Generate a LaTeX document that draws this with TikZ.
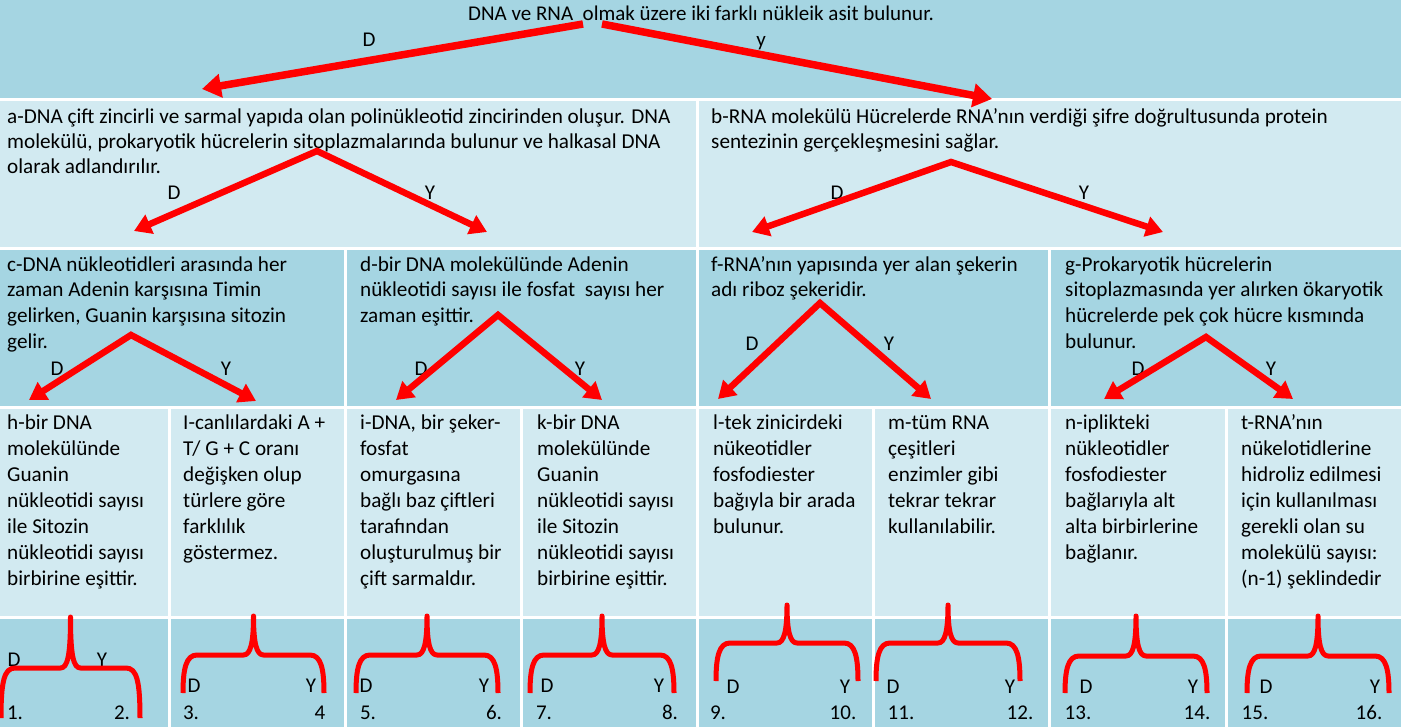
\documentclass[tikz,border=0pt]{standalone}
\usepackage{fontspec}
\setmainfont{Carlito}
\usetikzlibrary{arrows.meta}
\definecolor{dk}{HTML}{A5D5E2}
\definecolor{lt}{HTML}{D2EAF1}
\newcommand\fs{\rule{0pt}{20pt}}
\newcommand\MyBrace[5]{%
  \draw[brace] (#1,#4) .. controls (#1,#3+14) and (#1+3,#3) .. (#1+14,#3)
   -- ({(#1+#2)/2-10},#3) .. controls ({(#1+#2)/2-3},#3) and ({(#1+#2)/2},#3-12) .. ({(#1+#2)/2},#5)
   .. controls ({(#1+#2)/2},#3-12) and ({(#1+#2)/2+3},#3) .. ({(#1+#2)/2+10},#3)
   -- (#2-14,#3) .. controls (#2-3,#3) and (#2,#3+14) .. (#2,#4);}
\tikzset{
  txt2/.style={anchor=north west, inner sep=0pt, align=left, font=\fontsize{21.2}{25}\selectfont},
  txt3/.style={anchor=north west, inner sep=0pt, align=left, font=\fontsize{21.2}{25.7}\selectfont},
  txt4/.style={anchor=north west, inner sep=0pt, align=left, font=\fontsize{21.2}{26.1}\selectfont},
  lbl/.style={inner sep=0pt, anchor=base, font=\fontsize{21}{24}\selectfont},
  toparr/.style={draw=red, line width=7.5pt, >={Triangle[width=23pt,length=19pt]}, ->},
  arrs/.style={draw=red, line width=6.5pt, line join=miter, >={Triangle[width=20pt,length=17pt]}, <->},
  brace/.style={draw=red, line width=5pt, line join=round}
}
\begin{document}
\begin{tikzpicture}[x=1pt,y=-1pt]
\useasboundingbox (0,0) rectangle (1415,727);
\fill[white] (0,0) rectangle (1415,727);
% row 1
\fill[dk] (0,0) rectangle (1401,98.5);
% row 2
\fill[lt] (0,101) rectangle (695.5,247.5);
\fill[lt] (698.5,101) rectangle (1401,247.5);
% row 3
\fill[dk] (0,250.5) rectangle (343.5,406);
\fill[dk] (346.5,250.5) rectangle (695.5,406);
\fill[dk] (698.5,250.5) rectangle (1047.5,406);
\fill[dk] (1050.5,250.5) rectangle (1401,406);
% rows 4 and 5
\foreach \a/\b in {0/167.5,170.5/343.5,346.5/519.5,522.5/695.5,698.5/871.5,874.5/1047.5,1050.5/1224.5,1227.5/1401}{
  \fill[lt] (\a,409) rectangle (\b,615.5);
  \fill[dk] (\a,618.5) rectangle (\b,727);
}

% row 1
\node[lbl] (title) at (701,21) {DNA ve RNA \ olmak üzere iki farklı nükleik asit bulunur.};
\node[lbl] (d0) at (369,47) {D};
\node[lbl] (y0) at (761,47) {y};
\coordinate (s0l) at (583,24);
\coordinate (s0r) at (602,24);
\coordinate (t0l) at (202,89);
\coordinate (t0r) at (992,99);

% row 2
\node[txt2] (a) at (7,103) {\fs a-DNA çift zincirli ve sarmal yapıda olan polinükleotid zincirinden oluşur. DNA\\molekülü, prokaryotik hücrelerin sitoplazmalarında bulunur ve halkasal DNA\\olarak adlandırılır.};
\node[txt2] (b) at (711,103) {\fs b-RNA molekülü Hücrelerde RNA’nın verdiği şifre doğrultusunda protein\\sentezinin gerçekleşmesini sağlar.};
\node[lbl] (da) at (174,200) {D};
\node[lbl] (ya) at (430,200) {Y};
\node[lbl] (db) at (837,200) {D};
\node[lbl] (yb) at (1084,200) {Y};
\coordinate (pa) at (317,151);
\coordinate (pal) at (134,231);
\coordinate (par) at (487,232);
\coordinate (pb) at (951,162);
\coordinate (pbl) at (752,232);
\coordinate (pbr) at (1163,232);

% row 3
\node[txt3] (c) at (7,251) {\fs c-DNA nükleotidleri arasında her\\zaman Adenin karşısına Timin\\gelirken, Guanin karşısına sitozin\\gelir.};
\node[txt3] (d) at (360,251) {\fs d-bir DNA molekülünde Adenin\\nükleotidi sayısı ile fosfat \ sayısı her\\zaman eşittir.};
\node[txt3] (f) at (711,251) {\fs f-RNA’nın yapısında yer alan şekerin\\adı riboz şekeridir.};
\node[txt3] (g) at (1065,251) {\fs g-Prokaryotik hücrelerin\\sitoplazmasında yer alırken ökaryotik\\hücrelerde pek çok hücre kısmında\\bulunur.};
\node[lbl] (dc) at (57,375) {D};
\node[lbl] (yc) at (226,375) {Y};
\node[lbl] (dd) at (421,375) {D};
\node[lbl] (yd) at (580,375) {Y};
\node[lbl] (df) at (752,350) {D};
\node[lbl] (yf) at (889,350) {Y};
\node[lbl] (dg) at (1138,375) {D};
\node[lbl] (yg) at (1271,375) {Y};
\coordinate (pc) at (131,335);
\coordinate (pcl) at (29,400);
\coordinate (pcr) at (256,401);
\coordinate (pd) at (498,315);
\coordinate (pdl) at (396,400);
\coordinate (pdr) at (602,400);
\coordinate (pf) at (820,303);
\coordinate (pfl) at (718,399);
\coordinate (pfr) at (931,399);
\coordinate (pg) at (1206,337);
\coordinate (pgl) at (1104,399);
\coordinate (pgr) at (1293,399);

% row 4
\node[txt4] (h) at (7,409) {\fs h-bir DNA\\molekülünde\\Guanin\\nükleotidi sayısı\\ile Sitozin\\nükleotidi sayısı\\birbirine eşittir.};
\node[txt4] (I) at (183,409) {\fs I-canlılardaki A +\\T/ G + C oranı\\değişken olup\\türlere göre\\farklılık\\göstermez.};
\node[txt4] (i) at (360,409) {\fs i-DNA, bir şeker-\\fosfat\\omurgasına\\bağlı baz çiftleri\\tarafından\\oluşturulmuş bir\\çift sarmaldır.};
\node[txt4] (k) at (537,409) {\fs k-bir DNA\\molekülünde\\Guanin\\nükleotidi sayısı\\ile Sitozin\\nükleotidi sayısı\\birbirine eşittir.};
\node[txt4] (l) at (713,409) {\fs l-tek zinicirdeki\\nükeotidler\\fosfodiester\\bağıyla bir arada\\bulunur.};
\node[txt4] (m) at (888,409) {\fs m-tüm RNA\\çeşitleri\\enzimler gibi\\tekrar tekrar\\kullanılabilir.};
\node[txt4] (n) at (1065,409) {\fs n-iplikteki\\nükleotidler\\fosfodiester\\bağlarıyla alt\\alta birbirlerine\\bağlanır.};
\node[txt4] (t) at (1241,409) {\fs t-RNA’nın\\nükelotidlerine\\hidroliz edilmesi\\için kullanılması\\gerekli olan su\\molekülü sayısı:\\(n-1) şeklindedir};

% row 5 labels
\node[lbl] (D1) at (14,666) {D};   \node[lbl] (Y1) at (102,666) {Y};
\node[lbl] (N1) at (15,719) {1.};  \node[lbl] (N2) at (122,719) {2.};
\node[lbl] (D2) at (194,692) {D};  \node[lbl] (Y2) at (311,692) {Y};
\node[lbl] (N3) at (191,719) {3.}; \node[lbl] (N4) at (320,719) {4};
\node[lbl] (D3) at (366,692) {D};  \node[lbl] (Y3) at (484,692) {Y};
\node[lbl] (N5) at (368,719) {5.}; \node[lbl] (N6) at (494,719) {6.};
\node[lbl] (D4) at (547,692) {D};  \node[lbl] (Y4) at (659,692) {Y};
\node[lbl] (N7) at (544,719) {7.}; \node[lbl] (N8) at (670,719) {8.};
\node[lbl] (D5) at (733,693) {D};  \node[lbl] (Y5) at (845,693) {Y};
\node[lbl] (N9) at (718,719) {9.}; \node[lbl] (N10) at (843,719) {10.};
\node[lbl] (D6) at (893,693) {D};  \node[lbl] (Y6) at (1010,693) {Y};
\node[lbl] (N11) at (901,719) {11.}; \node[lbl] (N12) at (1020,719) {12.};
\node[lbl] (D7) at (1086,693) {D}; \node[lbl] (Y7) at (1193,693) {Y};
\node[lbl] (N13) at (1078,719) {13.}; \node[lbl] (N14) at (1197,719) {14.};
\node[lbl] (D8) at (1266,693) {D}; \node[lbl] (Y8) at (1375,693) {Y};
\node[lbl] (N15) at (1255,719) {15.}; \node[lbl] (N16) at (1369,719) {16.};

% braces
\MyBrace{1}{140}{668}{718}{617}
\MyBrace{183}{324}{655}{693}{616}
\MyBrace{356}{498}{655}{693}{616}
\MyBrace{530}{674}{655}{693}{616}
\MyBrace{716}{858}{643}{681}{605}
\MyBrace{876}{1020}{643}{681}{605}
\MyBrace{1065}{1207}{656}{693}{616}
\MyBrace{1247}{1389}{656}{693}{616}

% arrows
\draw[toparr] (s0l) -- (t0l);
\draw[toparr] (s0r) -- (t0r);
\draw[arrs] (pal) -- (pa) -- (par);
\draw[arrs] (pbl) -- (pb) -- (pbr);
\draw[arrs] (pcl) -- (pc) -- (pcr);
\draw[arrs] (pdl) -- (pd) -- (pdr);
\draw[arrs] (pfl) -- (pf) -- (pfr);
\draw[arrs] (pgl) -- (pg) -- (pgr);
\end{tikzpicture}
\end{document}
